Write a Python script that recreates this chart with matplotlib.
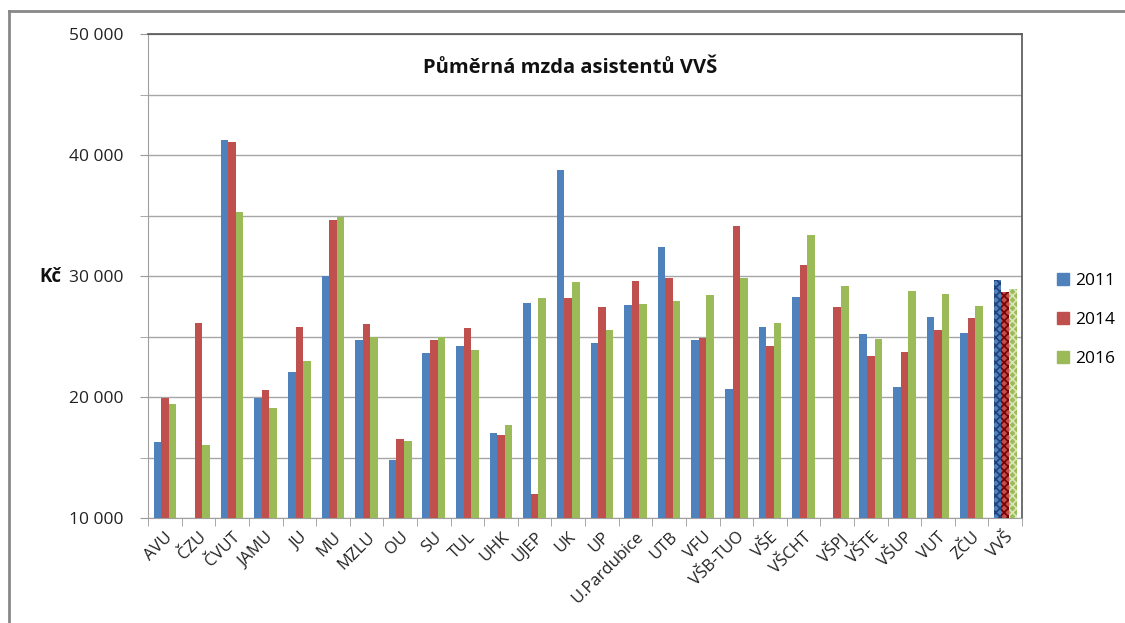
import numpy as np
import matplotlib
matplotlib.use("Agg")
import matplotlib.pyplot as plt
from matplotlib.lines import Line2D

plt.rcParams['font.family'] = ['Open Sans', 'DejaVu Sans']
plt.rcParams['hatch.linewidth'] = 1.2

schools = ["AVU", "ČZU", "ČVUT", "JAMU", "JU", "MU", "MZLU", "OU", "SU", "TUL",
           "UHK", "UJEP", "UK", "UP", "U.Pardubice", "UTB", "VFU", "VŠB-TUO", "VŠE",
           "VŠCHT", "VŠPJ", "VŠTE", "VŠUP", "VUT", "ZČU", "VVŠ"]
years = ["2011", "2014", "2016"]
# NaN = missing value in the source
wage_2011 = [16300, np.nan, 41200, 19900, 22100, 30000, 24700, 14800, 23600, 24200,
             17000, 27800, 38800, 24500, 27600, 32400, 24700, 20700, 25800,
             28300, np.nan, 25200, 20800, 26600, 25300, 29700]
wage_2014 = [19900, 26100, 41100, 20600, 25800, 34600, 26000, 16500, 24700, 25700,
             16900, 12000, 28200, 27400, 29600, 29800, 24900, 34100, 24200,
             30900, 27400, 23400, 23700, 25500, 26500, 28700]
wage_2016 = [19400, 16000, 35300, 19100, 23000, 34900, 25000, 16400, 25000, 23900,
             17700, 28200, 29500, 25500, 27700, 27900, 28400, 29800, 26100,
             33400, 29200, 24800, 28800, 28500, 27500, 28900]

colors = ["#4F81BD", "#C0504D", "#9BBB59"]
hatch_colors = ["#1F3F7A", "#7A0000", "#D8E6B8"]

fig = plt.figure(figsize=(11.25, 6.23), dpi=100)
ax = fig.add_axes([0.1316, 0.1685, 0.7769, 0.7769])

x = np.arange(len(schools))
w = 0.225
for k, vals in enumerate([wage_2011, wage_2014, wage_2016]):
    vals = np.array(vals, dtype=float)
    pos = x + (k - 1) * w
    bottom = 10000
    ax.bar(pos[:-1], vals[:-1] - bottom, w, bottom=bottom, color=colors[k],
           linewidth=0, zorder=3)
    # overall VVŠ bar drawn with a checker pattern
    ax.bar(pos[-1], vals[-1] - bottom, w, bottom=bottom, color=colors[k],
           edgecolor=hatch_colors[k], hatch="xxxx", linewidth=0, zorder=3)

ax.set_ylim(10000, 50000)
ax.set_xlim(-0.5, len(schools) - 0.5)
ax.set_yticks(np.arange(10000, 50001, 10000))
ax.set_yticks(np.arange(10000, 50001, 5000), minor=True)
ax.set_yticklabels([f"{v:,}".replace(",", " ") for v in range(10000, 50001, 10000)],
                   fontsize=12.5, color="#222222")
ax.yaxis.grid(True, which="both", color="#a6a6a6", linewidth=1, zorder=0)
ax.tick_params(axis="y", which="both", length=6, color="#999999", pad=12)

ax.set_xticks(x)
ax.set_xticklabels(schools, rotation=45, ha="right", rotation_mode="anchor",
                   fontsize=12, color="#222222")
ax.set_xticks(np.arange(-0.5, len(schools), 1), minor=True)
ax.tick_params(axis="x", which="major", length=0, pad=8)
ax.tick_params(axis="x", which="minor", length=6, color="#999999")

for side in ["left", "bottom"]:
    ax.spines[side].set_color("#a0a0a0")
for side in ["top", "right"]:
    ax.spines[side].set_color("#555555")
    ax.spines[side].set_linewidth(1.2)

ax.text(0.483, 0.93, "Půměrná mzda asistentů VVŠ", transform=ax.transAxes,
        ha="center", va="center", fontsize=14.5, fontweight="bold", color="#111111")
fig.text(0.045, 1 - 277 / 623, "Kč", ha="center", va="center", fontsize=13.5,
         fontweight="bold", color="#111111")

handles = [Line2D([], [], marker="s", linestyle="", markersize=8, color=c) for c in colors]
fig.legend(handles, years, loc="center left", bbox_to_anchor=(1056 / 1125, 1 - 320 / 623),
           frameon=False, fontsize=12.5, handletextpad=0.3, labelspacing=1.3,
           handlelength=0.8, borderpad=0, borderaxespad=0)

# outer chart frame
fig.add_artist(Line2D([9 / 1125, 9 / 1125], [0, 1 - 11 / 623],
                      transform=fig.transFigure, color="#888888", linewidth=2))
fig.add_artist(Line2D([9 / 1125, 1], [1 - 11 / 623, 1 - 11 / 623],
                      transform=fig.transFigure, color="#888888", linewidth=2))

fig.savefig("out.png", dpi=100, facecolor="white")
